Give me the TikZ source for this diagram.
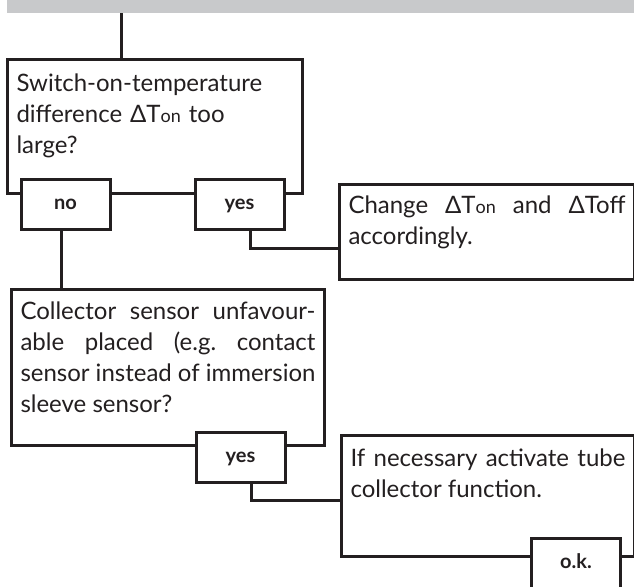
\documentclass[tikz,border=0pt]{standalone}
\usepackage{fontspec}
\setmainfont{Lato}
\usetikzlibrary{positioning}
\definecolor{ink}{RGB}{35,31,32}
\definecolor{barfill}{RGB}{200,201,203}
% small "on" after Delta T
\newcommand{\lo}[1]{{\fontsize{18}{18}\selectfont #1}}
\frenchspacing

\begin{document}
\begin{tikzpicture}[
            x=1pt, y=-1pt,
            box/.style={rectangle, draw=ink, fill=white, line width=3pt, inner xsep=9pt, inner ysep=8pt,
                        text=ink, font=\fontsize{24}{31}\selectfont, anchor=north west},
            choice/.style={rectangle, draw=ink, fill=white, line width=3pt, inner sep=0pt,
                        minimum width=89pt, minimum height=50pt, text height=10pt, text depth=0pt,
                        text=ink, font=\fontsize{20}{20}\selectfont\bfseries},
            link/.style={draw=ink, line width=3pt}
        ]
            \useasboundingbox (0,0) rectangle (634,586);

            % --- header bar ---
            \node[rectangle, fill=barfill, inner sep=0pt, minimum width=633pt, minimum height=18pt, anchor=north west] (bar) at (7,-5) {};

            % --- question 1 ---
            \node[box, text width=277pt, align=left, text height=24pt, text depth=94pt] (q1) at (6,58)
                {Switch-on-temperature\\difference ΔT\lo{on} too\\large?};
            \draw[link] ([xshift=115pt]q1.north west) -- ([xshift=115pt]q1.north west |- bar.south);

            \node[choice] (no1) at (65.5,204.5) {no};
            \node[choice] (yes1) at (239.5,204.5) {yes};

            % --- action 1 ---
            \node[box, text width=277pt, align=justify, text height=21pt, text depth=58pt] (act1) at (338,183)
                {Change ΔT\lo{on} and ΔToff\linebreak accordingly.};
            \draw[link] ([xshift=10.5pt]yes1.south) |- ([yshift=-16.5pt]act1.west);

            % --- question 2 ---
            \node[box, text width=295pt, align=justify, text height=22pt, text depth=118pt] (q2) at (10,288)
                {Collector sensor unfavour-\linebreak able placed (e.g. contact\linebreak sensor instead of immersion\linebreak sleeve sensor?};
            \draw[link] ([xshift=-4.5pt]no1.south) -- ([xshift=-4.5pt]no1.south |- q2.north);

            \node[choice] (yes2) at (240.5,457) {yes};

            % --- action 2 ---
            \node[box, text width=275pt, align=justify, text height=23pt, text depth=82pt] (act2) at (340,434)
                {If necessary activate tube\linebreak collector function.};
            \draw[link] ([xshift=10.5pt]yes2.south) |- ([yshift=-4.5pt]act2.west);

            \node[choice] (ok) at (576,563) {o.k.};
        \end{tikzpicture}
\end{document}
